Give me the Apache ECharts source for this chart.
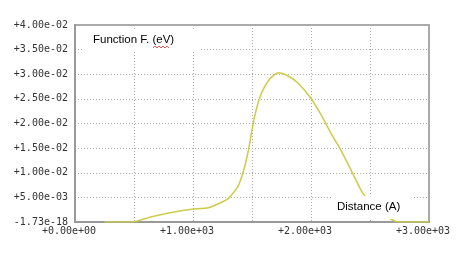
<!DOCTYPE html>
<html>
<head>
<meta charset="utf-8">
<script src="https://cdn.jsdelivr.net/npm/echarts@6/dist/echarts.min.js"></script>
<style>html,body{margin:0;padding:0;background:#fff;}#c{width:471px;height:254px;}</style>
</head>
<body>
<div id="c"></div>
<script>
// Data
const distance = [250, 480, 650, 850, 990, 1130, 1210, 1300, 1380, 1430, 1470, 1500, 1525, 1570, 1610, 1650, 1720, 1790, 1880, 1990, 2080, 2160, 2250, 2330, 2440, 2570, 2690, 2750, 3000];
const energy = [0, 0, 0.00108, 0.00209, 0.00258, 0.0029, 0.00365, 0.00481, 0.00717, 0.01056, 0.01462, 0.01868, 0.02173, 0.02558, 0.02761, 0.02904, 0.03032, 0.02985, 0.02843, 0.02544, 0.0220, 0.0184, 0.0147, 0.0110, 0.0058, 0.0024, 0.0004, 0, 0];
const yTitle = 'Function F. (eV)';
const xTitle = 'Distance (A)';
const yZeroLabel = '-1.73e-18';

function sci(v) {
  let s = Math.abs(v).toExponential(2);
  let [m, e] = s.split('e');
  let es = e[0];
  let en = e.slice(1);
  if (en.length < 2) en = '0' + en;
  return (v < 0 ? '-' : '+') + m + 'e' + es + en;
}

const chart = echarts.init(document.getElementById('c'), null, {renderer: 'canvas'});
const monoFont = {fontFamily: 'DejaVu Sans Mono', fontSize: 10, color: '#333'};
chart.setOption({
  animation: false,
  backgroundColor: '#fff',
  grid: {left: 75, top: 25, right: 42, bottom: 32, show: true, borderColor: '#aaa', borderWidth: 2, backgroundColor: 'transparent'},
  xAxis: {
    type: 'value', min: 0, max: 3000, interval: 500,
    axisLine: {show: true, lineStyle: {color: '#999', width: 2}},
    axisTick: {show: false},
    splitLine: {show: true, lineStyle: {color: '#aaa', width: 1, type: [1, 2]}},
    axisLabel: Object.assign({}, monoFont, {
      margin: 4, padding: [0, 12, 0, 0],
      formatter: v => (v % 1000 === 0 ? sci(v) : '')
    })
  },
  yAxis: {
    type: 'value', min: 0, max: 0.04, interval: 0.005,
    axisLine: {show: true, lineStyle: {color: '#999', width: 2}},
    axisTick: {show: false},
    splitLine: {show: true, lineStyle: {color: '#aaa', width: 1, type: [1, 2]}},
    axisLabel: Object.assign({}, monoFont, {
      margin: 7,
      formatter: v => (Math.abs(v) < 1e-12 ? yZeroLabel : sci(v))
    })
  },
  series: [{
    type: 'line',
    data: distance.map((d, i) => [d, energy[i]]),
    smooth: 0.2,
    showSymbol: false,
    lineStyle: {color: '#cccc4a', width: 1.5},
    z: 2
  }],
  graphic: [
    {type: 'rect', shape: {x: 83, y: 30, width: 117, height: 21}, style: {fill: '#fff'}, z: 100},
    {type: 'text', x: 93, y: 40, style: {text: yTitle, font: '11.5px "Liberation Sans", Arial', fill: '#000', verticalAlign: 'middle'}, z: 101},
    {type: 'polyline', shape: {points: [[153,48],[155,46],[157,48],[159,46],[161,48],[163,46],[165,48],[167,46],[169,48]]}, style: {stroke: '#e03030', lineWidth: 0.8, fill: null}, z: 102},
    {type: 'rect', shape: {x: 333, y: 196, width: 80, height: 23}, style: {fill: '#fff'}, z: 100},
    {type: 'text', x: 337, y: 207, style: {text: xTitle, font: '11.5px "Liberation Sans", Arial', fill: '#000', verticalAlign: 'middle'}, z: 101}
  ]
});
</script>
</body>
</html>
